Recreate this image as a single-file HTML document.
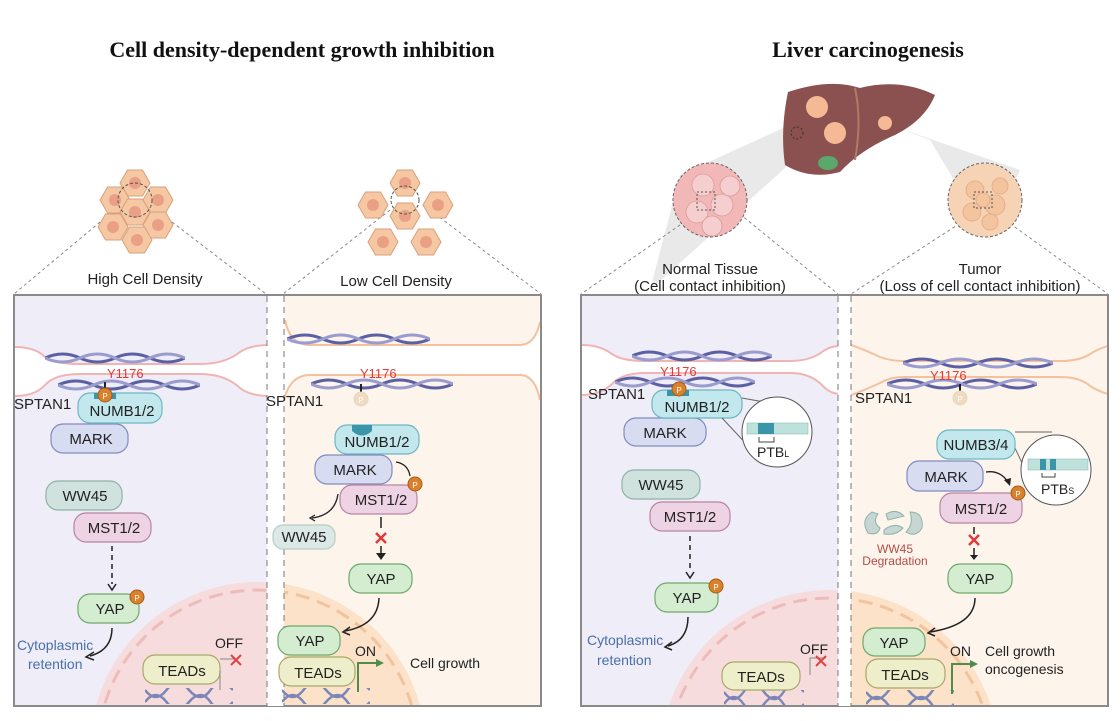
<!DOCTYPE html>
<html><head><meta charset="utf-8"><style>
html,body{margin:0;padding:0;background:#fff;overflow:hidden;width:1120px;height:721px;}
svg{display:block;font-family:"Liberation Sans",sans-serif;}
.t{font-size:15px;fill:#222;text-anchor:middle;}
.bx{stroke-width:1.2;}
</style></head><body>
<svg width="1120" height="721" viewBox="0 0 1120 721" xmlns="http://www.w3.org/2000/svg">
<defs>
<symbol id="fib" viewBox="0 0 140 12" preserveAspectRatio="none">
<path d="M0 6 Q17.5 -2 35 6 T70 6 T105 6 T140 6" fill="none" stroke="#5b5fa3" stroke-width="3"/>
<path d="M0 6 Q17.5 14 35 6 T70 6 T105 6 T140 6" fill="none" stroke="#9a9cd0" stroke-width="3"/>
</symbol>
<symbol id="hex" viewBox="-16 -16 32 32">
<polygon points="-15,0 -7.5,-13 7.5,-13 15,0 7.5,13 -7.5,13" fill="#f5c7a2" stroke="#d8a07a" stroke-width="1"/>
<circle r="6" fill="#e9a084"/>
</symbol>
<symbol id="dna" viewBox="0 0 90 16" preserveAspectRatio="none">
<path d="M0 2 Q11 16 22 2 T45 2 T67 2 T90 2" fill="none" stroke="#7b86b6" stroke-width="2.5"/>
<path d="M0 14 Q11 0 22 14 T45 14 T67 14 T90 14" fill="none" stroke="#7b86b6" stroke-width="2.5"/>
</symbol>
<clipPath id="cA"><rect x="15" y="296" width="252" height="410"/></clipPath>
<clipPath id="cB"><rect x="284" y="296" width="256" height="410"/></clipPath>
<clipPath id="cC"><rect x="582" y="296" width="256" height="410"/></clipPath>
<clipPath id="cD"><rect x="851" y="296" width="256" height="410"/></clipPath>
</defs>

<text x="302" y="57" font-family="Liberation Serif,serif" font-weight="bold" font-size="22" text-anchor="middle" fill="#111">Cell density-dependent growth inhibition</text>
<text x="868" y="57" font-family="Liberation Serif,serif" font-weight="bold" font-size="22" text-anchor="middle" fill="#111">Liver carcinogenesis</text>

<g stroke="#888" stroke-dasharray="3,3" fill="none" stroke-width="1">
<line x1="100" y1="222" x2="14" y2="294"/><line x1="172" y1="222" x2="266" y2="294"/>
<line x1="390" y1="210" x2="283" y2="294"/><line x1="430" y1="210" x2="541" y2="294"/>
</g>
<use href="#hex" x="119" y="167" width="32" height="32"/>
<use href="#hex" x="99" y="184" width="32" height="32"/>
<use href="#hex" x="142" y="184" width="32" height="32"/>
<use href="#hex" x="119" y="196" width="32" height="32"/>
<use href="#hex" x="97" y="211" width="32" height="32"/>
<use href="#hex" x="142" y="209" width="32" height="32"/>
<use href="#hex" x="121" y="224" width="32" height="32"/>
<use href="#hex" x="389" y="167" width="32" height="32"/>
<use href="#hex" x="357" y="189" width="32" height="32"/>
<use href="#hex" x="422" y="189" width="32" height="32"/>
<use href="#hex" x="389" y="200" width="32" height="32"/>
<use href="#hex" x="367" y="226" width="32" height="32"/>
<use href="#hex" x="410" y="226" width="32" height="32"/>
<g fill="none" stroke="#555" stroke-dasharray="3,2"><circle cx="135" cy="200" r="17"/><circle cx="405" cy="200" r="14"/></g>
<text class="t" x="145" y="284" font-size="14">High Cell Density</text>
<text class="t" x="396" y="286" font-size="14">Low Cell Density</text>

<!-- liver -->
<polygon points="650,290 680,175 790,125 805,150" fill="#e4e4e4" opacity="0.8"/>
<polygon points="890,125 1020,170 990,240 930,140" fill="#e4e4e4" opacity="0.8"/>
<path d="M788 92 Q830 78 860 88 Q900 78 935 95 Q925 120 895 135 Q860 150 840 172 Q810 180 785 165 Q780 130 788 92Z" fill="#8b5150"/>
<path d="M855 88 Q862 120 855 160" stroke="#b07a6a" stroke-width="2" fill="none"/>
<ellipse cx="828" cy="163" rx="10" ry="7" fill="#5aa86b"/>
<circle cx="817" cy="107" r="11" fill="#f5b996"/>
<circle cx="835" cy="133" r="11" fill="#f5b996"/>
<circle cx="885" cy="123" r="7" fill="#f5b996"/>
<circle cx="797" cy="133" r="6" fill="none" stroke="#333" stroke-dasharray="2,2"/>
<g stroke="#888" stroke-dasharray="3,3" fill="none" stroke-width="1">
<line x1="690" y1="218" x2="581" y2="294"/><line x1="735" y1="210" x2="838" y2="294"/>
<line x1="965" y1="220" x2="851" y2="294"/><line x1="1005" y1="220" x2="1108" y2="294"/>
</g>
<circle cx="710" cy="200" r="37" fill="#f2b8b8" stroke="#666" stroke-dasharray="3,2"/>
<g fill="#f5cfcf" stroke="#d99" stroke-width="0.8">
<circle cx="703" cy="185" r="11"/><circle cx="722" cy="205" r="11"/><circle cx="697" cy="212" r="11"/><circle cx="712" cy="226" r="10"/><circle cx="730" cy="186" r="10"/></g>
<rect x="697" y="192" width="18" height="18" fill="none" stroke="#555" stroke-dasharray="2,2"/>
<circle cx="985" cy="200" r="37" fill="#f6d3b4" stroke="#666" stroke-dasharray="3,2"/>
<g fill="#f3c39c" stroke="#e0a67f" stroke-width="0.8" opacity="0.9">
<circle cx="975" cy="190" r="9"/><circle cx="995" cy="205" r="10"/><circle cx="972" cy="212" r="9"/><circle cx="990" cy="222" r="8"/><circle cx="1000" cy="186" r="8"/><circle cx="983" cy="200" r="7"/></g>
<rect x="974" y="192" width="18" height="16" fill="none" stroke="#555" stroke-dasharray="2,2"/>
<text class="t" x="710" y="274" font-size="14">Normal Tissue</text>
<text class="t" x="710" y="291" font-size="14">(Cell contact inhibition)</text>
<text class="t" x="980" y="274" font-size="14">Tumor</text>
<text class="t" x="980" y="291" font-size="14">(Loss of cell contact inhibition)</text>

<rect x="15" y="296" width="252" height="410" fill="#efedf7"/>
<rect x="284" y="296" width="256" height="410" fill="#fdf4ec"/>
<rect x="582" y="296" width="256" height="410" fill="#efedf7"/>
<rect x="851" y="296" width="256" height="410" fill="#fdf4ec"/>

<g clip-path="url(#cA)"><circle cx="258" cy="750" r="168" fill="#f6dcdc"/><circle cx="258" cy="750" r="160" fill="none" stroke="#eebbbb" stroke-width="3" stroke-dasharray="14,8"/></g>
<g clip-path="url(#cB)"><circle cx="258" cy="750" r="168" fill="#fbe2c8"/><circle cx="258" cy="750" r="160" fill="none" stroke="#f2c39c" stroke-width="3" stroke-dasharray="14,8"/></g>
<g clip-path="url(#cC)"><circle cx="830" cy="760" r="170" fill="#f6dcdc"/><circle cx="830" cy="760" r="162" fill="none" stroke="#eebbbb" stroke-width="3" stroke-dasharray="14,8"/></g>
<g clip-path="url(#cD)"><circle cx="830" cy="760" r="170" fill="#fbe2c8"/><circle cx="830" cy="760" r="162" fill="none" stroke="#f2c39c" stroke-width="3" stroke-dasharray="14,8"/></g>

<!-- membranes -->
<g clip-path="url(#cA)">
<path d="M15 347 Q35 347 45 357 Q55 364 80 364 L200 364 Q225 364 240 352 Q250 345 270 345 L270 396 Q250 396 240 388 Q225 374 200 374 L80 374 Q55 374 45 385 Q35 396 15 396Z" fill="#fff"/>
<g fill="none" stroke="#f0b4b4" stroke-width="2">
<path d="M15 347 Q35 347 45 357 Q55 364 80 364 L200 364 Q225 364 240 352 Q250 345 270 345"/>
<path d="M15 396 Q35 396 45 385 Q55 374 80 374 L200 374 Q225 374 240 388 Q250 396 270 396"/>
</g></g>
<g clip-path="url(#cB)">
<path d="M285 320 Q290 345 310 345 L520 345 Q535 345 540 322 L540 400 Q535 375 520 375 L310 375 Q290 375 284 400Z" fill="#fff"/>
<g fill="none" stroke="#f3c19e" stroke-width="2">
<path d="M285 320 Q290 345 310 345 L520 345 Q535 345 540 322"/>
<path d="M284 400 Q290 375 310 375 L520 375 Q535 375 540 400"/>
</g></g>
<g clip-path="url(#cC)">
<path d="M582 345 Q600 345 612 354 Q622 361 645 361 L790 361 Q810 361 822 352 Q830 346 840 346 L840 394 Q830 394 822 385 Q810 373 790 373 L645 373 Q622 373 612 384 Q600 395 582 395Z" fill="#fff"/>
<g fill="none" stroke="#f0b4b4" stroke-width="2">
<path d="M582 345 Q600 345 612 354 Q622 361 645 361 L790 361 Q810 361 822 352 Q830 346 840 346"/>
<path d="M582 395 Q600 395 612 384 Q622 373 645 373 L790 373 Q810 373 822 385 Q830 394 840 394"/>
</g></g>
<g clip-path="url(#cD)" fill="none" stroke="#f3c19e" stroke-width="2">
<path d="M851 345 Q865 350 880 357 Q890 361 905 361 L1060 361 Q1080 361 1090 354 Q1100 348 1108 346"/>
<path d="M851 395 Q865 390 880 383 Q890 377 905 377 L1060 377 Q1080 377 1090 386 Q1100 392 1108 394"/>
</g>

<use href="#fib" x="45" y="352" width="140" height="12"/>
<use href="#fib" x="58" y="379" width="142" height="12"/>
<use href="#fib" x="287" y="333" width="143" height="12"/>
<use href="#fib" x="311" y="378" width="142" height="12"/>
<use href="#fib" x="632" y="350" width="140" height="12"/>
<use href="#fib" x="615" y="376" width="140" height="12"/>
<use href="#fib" x="903" y="357" width="150" height="12"/>
<use href="#fib" x="887" y="378" width="150" height="12"/>

<rect x="14" y="295" width="527" height="411" fill="none" stroke="#8a8a8a" stroke-width="2"/>
<rect x="267" y="296" width="17" height="410" fill="#fff"/>
<line x1="267" y1="296" x2="267" y2="706" stroke="#777" stroke-dasharray="6,5"/>
<line x1="284" y1="296" x2="284" y2="706" stroke="#777" stroke-dasharray="6,5"/>
<rect x="581" y="295" width="527" height="411" fill="none" stroke="#8a8a8a" stroke-width="2"/>
<rect x="838" y="296" width="13" height="410" fill="#fff"/>
<line x1="838" y1="296" x2="838" y2="706" stroke="#777" stroke-dasharray="6,5"/>
<line x1="851" y1="296" x2="851" y2="706" stroke="#777" stroke-dasharray="6,5"/>

<g font-size="15" fill="#222">
<!-- Panel A -->
<text x="107" y="378" fill="#e03a3a" font-size="13">Y1176</text>
<line x1="105" y1="382" x2="105" y2="390" stroke="#222" stroke-width="2"/>
<text x="14" y="409">SPTAN1</text>
<rect class="bx" x="51" y="424" width="77" height="29" rx="12" fill="#d8dcf1" stroke="#7f8bc0"/>
<text class="t" x="91" y="444">MARK</text>
<rect class="bx" x="78" y="393" width="84" height="30" rx="12" fill="#c2e7ec" stroke="#6db7c2"/>
<rect x="94" y="393" width="22" height="6" fill="#3a95a8"/>
<text class="t" x="122" y="416">NUMB1/2</text>
<circle cx="105" cy="395" r="7" fill="#d9822b" stroke="#a85a1c"/><text x="105" y="399" font-size="8" fill="#fff" text-anchor="middle">P</text>
<rect class="bx" x="46" y="481" width="76" height="29" rx="12" fill="#d0e2dd" stroke="#8fb3a9"/>
<text class="t" x="85" y="501">WW45</text>
<rect class="bx" x="74" y="513" width="77" height="29" rx="12" fill="#edd3e3" stroke="#b884a2"/>
<text class="t" x="114" y="533">MST1/2</text>
<line x1="112" y1="546" x2="112" y2="584" stroke="#222" stroke-width="1.5" stroke-dasharray="5,4"/>
<path d="M108 584 L112 590 L116 584" fill="none" stroke="#222" stroke-width="1.5"/>
<rect class="bx" x="78" y="594" width="61" height="29" rx="12" fill="#d4ecd0" stroke="#6fa96a"/>
<text class="t" x="110" y="614">YAP</text>
<circle cx="137" cy="597" r="7" fill="#d9822b" stroke="#a85a1c"/><text x="137" y="601" font-size="8" fill="#fff" text-anchor="middle">P</text>
<path d="M112 628 Q112 650 90 656" fill="none" stroke="#222" stroke-width="1.5"/>
<path d="M94 652 L86 657 L94 660" fill="none" stroke="#222" stroke-width="1.5"/>
<text x="17" y="650" fill="#4a6fa8" font-size="14">Cytoplasmic</text>
<text x="28" y="669" fill="#4a6fa8" font-size="14">retention</text>
<use href="#dna" x="145" y="688" width="88" height="16"/>
<rect class="bx" x="143" y="655" width="77" height="29" rx="12" fill="#eeeecb" stroke="#a9a86a"/>
<text class="t" x="182" y="676">TEADs</text>
<path d="M220 671 L220 690 M220 659 L236 659" stroke="#888" fill="none"/>
<text x="215" y="648" font-size="14">OFF</text>
<path d="M231 655 L241 665 M241 655 L231 665" stroke="#d44" stroke-width="2"/>

<!-- Panel B -->
<text x="360" y="378" fill="#e03a3a" font-size="13">Y1176</text>
<line x1="361" y1="384" x2="361" y2="393" stroke="#222" stroke-width="2"/>
<circle cx="361" cy="399" r="7" fill="#f2d9c2" stroke="#ddb"/><text x="361" y="403" font-size="8" fill="#fff" text-anchor="middle">P</text>
<text x="266" y="406">SPTAN1</text>
<rect class="bx" x="335" y="425" width="84" height="29" rx="12" fill="#c2e7ec" stroke="#6db7c2"/>
<path d="M352 425 L352 431 Q362 440 372 431 L372 425 Z" fill="#3a95a8"/>
<text class="t" x="377" y="447">NUMB1/2</text>
<rect class="bx" x="315" y="455" width="77" height="29" rx="12" fill="#d8dcf1" stroke="#7f8bc0"/>
<text class="t" x="355" y="475">MARK</text>
<rect class="bx" x="340" y="485" width="77" height="29" rx="12" fill="#edd3e3" stroke="#b884a2"/>
<text class="t" x="381" y="505">MST1/2</text>
<path d="M396 462 Q408 464 410 476" fill="none" stroke="#222" stroke-width="1.3"/>
<circle cx="415" cy="484" r="7" fill="#d9822b" stroke="#a85a1c"/><text x="415" y="488" font-size="8" fill="#fff" text-anchor="middle">P</text>
<path d="M338 494 Q335 515 312 518" fill="none" stroke="#222" stroke-width="1.3"/>
<path d="M315 515 L310 518 L315 521" fill="none" stroke="#222" stroke-width="1.3"/>
<rect class="bx" x="273" y="525" width="62" height="24" rx="10" fill="#dce8e5" stroke="#b5cdc6"/>
<text class="t" x="304" y="542" fill="#999" font-size="12">WW45</text>
<line x1="381" y1="517" x2="381" y2="528" stroke="#222" stroke-width="1.5"/>
<path d="M376 533 L386 543 M386 533 L376 543" stroke="#e03a3a" stroke-width="2.5"/>
<line x1="381" y1="546" x2="381" y2="554" stroke="#222" stroke-width="1.5"/>
<path d="M376 553 L381 560 L386 553 Z" fill="#222"/>
<rect class="bx" x="349" y="564" width="63" height="29" rx="12" fill="#d4ecd0" stroke="#6fa96a"/>
<text class="t" x="381" y="584">YAP</text>
<path d="M379 598 Q378 625 345 631" fill="none" stroke="#222" stroke-width="1.5"/>
<path d="M350 627 L343 632 L350 635" fill="none" stroke="#222" stroke-width="1.5"/>
<use href="#dna" x="282" y="688" width="88" height="16"/>
<rect class="bx" x="278" y="626" width="62" height="29" rx="12" fill="#d4ecd0" stroke="#6fa96a"/>
<text class="t" x="310" y="646">YAP</text>
<rect class="bx" x="279" y="657" width="76" height="29" rx="12" fill="#eeeecb" stroke="#a9a86a"/>
<text class="t" x="318" y="678">TEADs</text>
<path d="M358 692 L358 663 L378 663" stroke="#4f8d4b" stroke-width="2" fill="none"/>
<path d="M376 659 L384 663 L376 667 Z" fill="#4f8d4b"/>
<text x="355" y="656" font-size="14">ON</text>
<text x="410" y="668" font-size="14">Cell growth</text>

<!-- Panel C -->
<text x="660" y="376" fill="#e03a3a" font-size="13">Y1176</text>
<text x="588" y="399">SPTAN1</text>
<rect class="bx" x="624" y="418" width="82" height="28" rx="12" fill="#d8dcf1" stroke="#7f8bc0"/>
<text class="t" x="665" y="438">MARK</text>
<rect class="bx" x="652" y="390" width="90" height="28" rx="12" fill="#c2e7ec" stroke="#6db7c2"/>
<rect x="667" y="390" width="22" height="6" fill="#3a95a8"/>
<circle cx="679" cy="389" r="7" fill="#d9822b" stroke="#a85a1c"/><text x="679" y="393" font-size="8" fill="#fff" text-anchor="middle">P</text>
<text class="t" x="697" y="412">NUMB1/2</text>
<line x1="742" y1="398" x2="775" y2="404" stroke="#666"/>
<line x1="722" y1="418" x2="752" y2="450" stroke="#666"/>
<circle cx="777" cy="432" r="35" fill="#fff" stroke="#555"/>
<rect x="747" y="423" width="61" height="11" fill="#bfe1dc" stroke="#8bbfb7" stroke-width="0.6"/>
<rect x="758" y="423" width="16" height="11" fill="#3a95a8"/>
<path d="M759 437 L759 442 L774 442 L774 437" fill="none" stroke="#444"/>
<text x="757" y="457" font-size="14">PTB<tspan font-size="9">L</tspan></text>
<rect class="bx" x="622" y="470" width="78" height="29" rx="12" fill="#d0e2dd" stroke="#8fb3a9"/>
<text class="t" x="661" y="490">WW45</text>
<rect class="bx" x="650" y="502" width="80" height="29" rx="12" fill="#edd3e3" stroke="#b884a2"/>
<text class="t" x="690" y="522">MST1/2</text>
<line x1="690" y1="536" x2="690" y2="572" stroke="#222" stroke-width="1.5" stroke-dasharray="5,4"/>
<path d="M686 572 L690 578 L694 572" fill="none" stroke="#222" stroke-width="1.5"/>
<rect class="bx" x="655" y="583" width="63" height="29" rx="12" fill="#d4ecd0" stroke="#6fa96a"/>
<text class="t" x="687" y="603">YAP</text>
<circle cx="716" cy="586" r="7" fill="#d9822b" stroke="#a85a1c"/><text x="716" y="590" font-size="8" fill="#fff" text-anchor="middle">P</text>
<path d="M688 617 Q688 640 668 646" fill="none" stroke="#222" stroke-width="1.5"/>
<path d="M672 642 L665 647 L672 650" fill="none" stroke="#222" stroke-width="1.5"/>
<text x="587" y="645" fill="#4a6fa8" font-size="14">Cytoplasmic</text>
<text x="597" y="665" fill="#4a6fa8" font-size="14">retention</text>
<use href="#dna" x="724" y="690" width="80" height="16"/>
<rect class="bx" x="722" y="662" width="78" height="28" rx="12" fill="#eeeecb" stroke="#a9a86a"/>
<text class="t" x="761" y="682">TEADs</text>
<path d="M810 675 L810 658 L826 658" stroke="#888" fill="none"/>
<text x="800" y="654" font-size="14">OFF</text>
<path d="M816 656 L826 666 M826 656 L816 666" stroke="#d44" stroke-width="2"/>

<!-- Panel D -->
<text x="930" y="380" fill="#e03a3a" font-size="13">Y1176</text>
<line x1="960" y1="384" x2="960" y2="392" stroke="#222" stroke-width="2"/>
<circle cx="960" cy="398" r="7" fill="#f2d9c2" stroke="#ddb"/><text x="960" y="402" font-size="8" fill="#fff" text-anchor="middle">P</text>
<text x="855" y="403">SPTAN1</text>
<line x1="1015" y1="432" x2="1052" y2="432" stroke="#666"/>
<line x1="1015" y1="448" x2="1030" y2="480" stroke="#666"/>
<circle cx="1056" cy="470" r="35" fill="#fff" stroke="#555"/>
<rect x="1028" y="459" width="60" height="11" fill="#bfe1dc" stroke="#8bbfb7" stroke-width="0.6"/>
<rect x="1040" y="459" width="6" height="11" fill="#3a95a8"/><rect x="1050" y="459" width="6" height="11" fill="#3a95a8"/>
<path d="M1042 473 L1042 477 L1055 477 L1055 473" fill="none" stroke="#444"/>
<text x="1041" y="494" font-size="14">PTB<tspan font-size="9">S</tspan></text>
<rect class="bx" x="937" y="430" width="78" height="29" rx="12" fill="#c2e7ec" stroke="#6db7c2"/>
<text class="t" x="976" y="450">NUMB3/4</text>
<rect class="bx" x="907" y="461" width="76" height="30" rx="12" fill="#d8dcf1" stroke="#7f8bc0"/>
<text class="t" x="946" y="482">MARK</text>
<rect class="bx" x="940" y="493" width="82" height="30" rx="12" fill="#edd3e3" stroke="#b884a2"/>
<text class="t" x="981" y="514">MST1/2</text>
<path d="M986 472 Q1000 470 1008 482" fill="none" stroke="#222" stroke-width="1.3"/>
<path d="M1004 480 L1010 486 L1011 478 Z" fill="#222"/>
<circle cx="1018" cy="493" r="7" fill="#d9822b" stroke="#a85a1c"/><text x="1018" y="497" font-size="8" fill="#fff" text-anchor="middle">P</text>
<g fill="#c7d6d2" stroke="#8fb3a9"><path d="M872 512 Q860 520 868 533 Q878 536 880 528 Q872 522 878 514 Z"/><path d="M886 514 Q896 508 904 516 Q896 518 888 520 Z"/><path d="M884 530 Q894 522 903 528 Q896 536 884 534 Z"/><path d="M910 512 Q924 512 922 528 Q916 538 906 532 Q914 524 910 512 Z"/></g>
<text x="895" y="553" fill="#b84a44" font-size="12" text-anchor="middle">WW45</text>
<text x="895" y="565" fill="#b84a44" font-size="12" text-anchor="middle">Degradation</text>
<line x1="974" y1="527" x2="974" y2="534" stroke="#222" stroke-width="1.5"/>
<path d="M969 535 L979 545 M979 535 L969 545" stroke="#e03a3a" stroke-width="2.5"/>
<line x1="974" y1="548" x2="974" y2="556" stroke="#222" stroke-width="1.5"/>
<path d="M970 555 L974 560 L978 555 Z" fill="#222"/>
<rect class="bx" x="948" y="564" width="64" height="29" rx="12" fill="#d4ecd0" stroke="#6fa96a"/>
<text class="t" x="980" y="584">YAP</text>
<path d="M975 598 Q975 625 930 632" fill="none" stroke="#222" stroke-width="1.5"/>
<path d="M935 628 L928 633 L935 636" fill="none" stroke="#222" stroke-width="1.5"/>
<use href="#dna" x="866" y="690" width="88" height="16"/>
<rect class="bx" x="863" y="628" width="62" height="28" rx="12" fill="#d4ecd0" stroke="#6fa96a"/>
<text class="t" x="894" y="648">YAP</text>
<rect class="bx" x="866" y="659" width="79" height="29" rx="12" fill="#eeeecb" stroke="#a9a86a"/>
<text class="t" x="905" y="680">TEADs</text>
<path d="M952 694 L952 664 L972 664" stroke="#4f8d4b" stroke-width="2" fill="none"/>
<path d="M970 660 L978 664 L970 668 Z" fill="#4f8d4b"/>
<text x="950" y="656" font-size="14">ON</text>
<text x="985" y="656" font-size="14">Cell growth</text>
<text x="985" y="674" font-size="14">oncogenesis</text>
</g>
</svg>
</body></html>
